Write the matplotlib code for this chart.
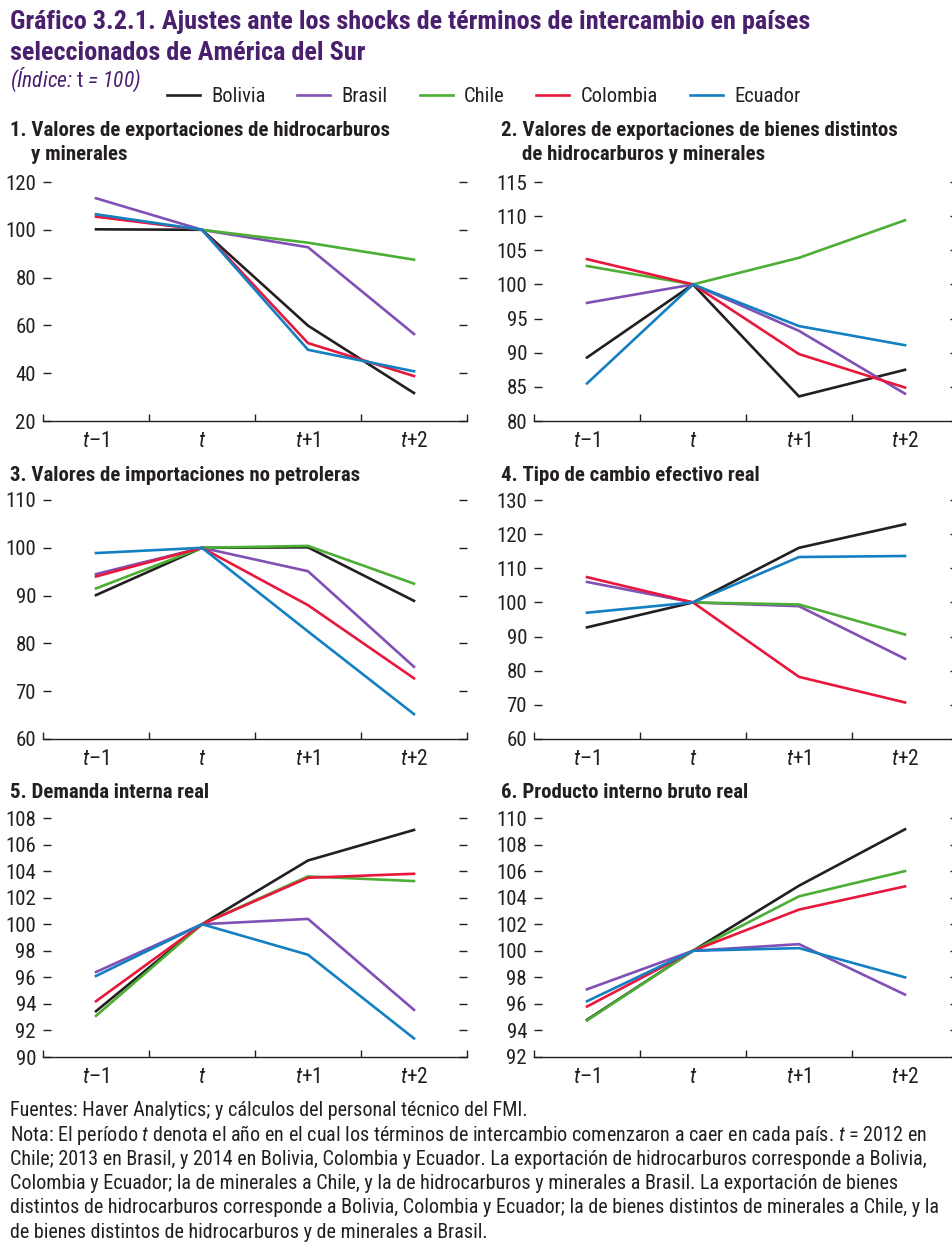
import numpy as np
import matplotlib
matplotlib.use("Agg")
import matplotlib.pyplot as plt
from matplotlib import font_manager as fm

# condensed grotesque closest to the original; fall back through what is installed
installed = {f.name for f in fm.fontManager.ttflist}
candidates = ['Roboto Condensed', 'Liberation Sans Narrow', 'Fira Sans Condensed', 'DejaVu Sans']
FAM = next(f for f in candidates if f in installed)
plt.rcParams['font.family'] = [FAM, 'DejaVu Sans']
plt.rcParams['mathtext.fontset'] = 'custom'
plt.rcParams['mathtext.it'] = FAM + ':italic'
plt.rcParams['mathtext.rm'] = FAM

# --- data -------------------------------------------------------------
periods = ["$t$–1", "$t$", "$t$+1", "$t$+2"]
countries = ["Bolivia", "Brasil", "Chile", "Colombia", "Ecuador"]
colors = ["#231f20", "#8050b4", "#4cae34", "#e8173c", "#1480c2"]

nan = np.nan
p1_bolivia = [100.2, 100, 59.9, 31.7]
p1_brasil = [113.2, 100, 92.7, 56.4]
p1_chile = [nan, 100, 94.6, 87.5]
p1_colombia = [105.5, 100, 52.6, 38.8]
p1_ecuador = [106.5, 100, 49.8, 40.8]

p2_bolivia = [89.3, 100, 83.6, 87.5]
p2_brasil = [97.3, 100, 93.2, 84.0]
p2_chile = [102.7, 100, 103.9, 109.4]
p2_colombia = [103.7, 100, 89.8, 84.9]
p2_ecuador = [85.5, 100, 93.9, 91.1]

p3_bolivia = [90.1, 100, 100.1, 88.9]
p3_brasil = [94.5, 100, 95.1, 75.1]
p3_chile = [91.5, 100, 100.4, 92.5]
p3_colombia = [94.0, 100, 88.0, 72.7]
p3_ecuador = [98.9, 100, 82.5, 65.2]

p4_bolivia = [92.7, 100, 116.0, 122.9]
p4_brasil = [106.0, 100, 98.9, 83.5]
p4_chile = [nan, 100, 99.4, 90.6]
p4_colombia = [107.4, 100, 78.2, 70.7]
p4_ecuador = [97.0, 100, 113.3, 113.6]

p5_bolivia = [93.45, 100, 104.8, 107.1]
p5_brasil = [96.4, 100, 100.4, 93.55]
p5_chile = [93.1, 100, 103.6, 103.25]
p5_colombia = [94.2, 100, 103.5, 103.8]
p5_ecuador = [96.1, 100, 97.7, 91.4]

p6_bolivia = [94.8, 100, 104.9, 109.15]
p6_brasil = [97.1, 100, 100.5, 96.7]
p6_chile = [94.75, 100, 104.1, 106.0]
p6_colombia = [95.8, 100, 103.1, 104.85]
p6_ecuador = [96.2, 100, 100.2, 98.0]

panels = [
    (["1. Valores de exportaciones de hidrocarburos", "y minerales"],
     [p1_bolivia, p1_brasil, p1_chile, p1_colombia, p1_ecuador], (20, 120, 20)),
    (["2. Valores de exportaciones de bienes distintos", "de hidrocarburos y minerales"],
     [p2_bolivia, p2_brasil, p2_chile, p2_colombia, p2_ecuador], (80, 115, 5)),
    (["3. Valores de importaciones no petroleras"],
     [p3_bolivia, p3_brasil, p3_chile, p3_colombia, p3_ecuador], (60, 110, 10)),
    (["4. Tipo de cambio efectivo real"],
     [p4_bolivia, p4_brasil, p4_chile, p4_colombia, p4_ecuador], (60, 130, 10)),
    (["5. Demanda interna real"],
     [p5_bolivia, p5_brasil, p5_chile, p5_colombia, p5_ecuador], (90, 108, 2)),
    (["6. Producto interno bruto real"],
     [p6_bolivia, p6_brasil, p6_chile, p6_colombia, p6_ecuador], (92, 110, 2)),
]

title_lines = ["Gráfico 3.2.1. Ajustes ante los shocks de términos de intercambio en países",
               "seleccionados de América del Sur"]
subtitle = "(Índice: $\\mathrm{t}$ = 100)"
notes = [
    "Fuentes: Haver Analytics; y cálculos del personal técnico del FMI.",
    "Nota: El período $t$ denota el año en el cual los términos de intercambio comenzaron a caer en cada país. $t$ = 2012 en",
    "Chile; 2013 en Brasil, y 2014 en Bolivia, Colombia y Ecuador. La exportación de hidrocarburos corresponde a Bolivia,",
    "Colombia y Ecuador; la de minerales a Chile, y la de hidrocarburos y minerales a Brasil. La exportación de bienes",
    "distintos de hidrocarburos corresponde a Bolivia, Colombia y Ecuador; la de bienes distintos de minerales a Chile, y la",
    "de bienes distintos de hidrocarburos y de minerales a Brasil.",
]

# --- layout (pixels) ---------------------------------------------------
W, H = 953, 1245
TXT = "#231f20"
PURPLE = "#4a1f6e"
fig = plt.figure(figsize=(W / 100, H / 100), dpi=100)


def fx(px):
    return px / W


def fy(py):
    return 1 - py / H


col_left = [43, 534]
row_top = [182, 500, 818]
ax_w, ax_h = 424, 239
title_y = [131, 475, 793]

x = np.arange(len(periods)) + 0.5
handles = []
for i, (ptitle, series, (lo, hi, step)) in enumerate(panels):
    r, c = divmod(i, 2)
    left, top = col_left[c], row_top[r]
    ax = fig.add_axes([fx(left), fy(top + ax_h), fx(ax_w), ax_h / H])
    for name, vals, col in zip(countries, series, colors):
        ln, = ax.plot(x, vals, color=col, lw=1.9, label=name, solid_joinstyle='miter')
        if i == 0:
            handles.append(ln)
    ax.set_xlim(0, 4)
    ax.set_ylim(lo, hi)
    ax.set_yticks(np.arange(lo, hi + step / 2, step))
    ax.set_xticks(np.arange(0, 5))
    ax.set_xticks(x, minor=True)
    ax.set_xticklabels([], minor=False)
    ax.set_xticklabels(periods, minor=True)
    for s in ["top", "left", "right"]:
        ax.spines[s].set_visible(False)
    ax.spines["bottom"].set_color(TXT)
    ax.spines["bottom"].set_linewidth(1.0)
    ax.tick_params(axis='x', which='major', direction='in', length=5, width=1, color=TXT)
    ax.tick_params(axis='x', which='minor', length=0, pad=7, labelsize=15.5, labelcolor=TXT)
    ax.tick_params(axis='y', direction='in', length=6, width=1, color=TXT, right=True,
                   labelright=False, labelsize=15, labelcolor=TXT, pad=5)

    tx = 10 if c == 0 else 501
    fig.text(fx(tx), fy(title_y[r]), ptitle[0], fontsize=15, fontweight='bold',
             color=TXT, va='center', ha='left')
    if len(ptitle) > 1:
        fig.text(fx(tx + 21), fy(title_y[r] + 24), ptitle[1], fontsize=15,
                 fontweight='bold', color=TXT, va='center', ha='left')

fig.text(fx(10), fy(22), title_lines[0], fontsize=18.9, fontweight='bold', color=PURPLE,
         va='center', ha='left')
fig.text(fx(10), fy(53), title_lines[1], fontsize=18.9, fontweight='bold', color=PURPLE,
         va='center', ha='left')
fig.text(fx(10), fy(80), subtitle, fontsize=15.5, style='italic', color=PURPLE,
         va='center', ha='left')

fig.legend(handles=handles, loc='center left', bbox_to_anchor=(fx(167), fy(97)),
           ncol=5, frameon=False, fontsize=14.8, handlelength=1.6, handletextpad=0.55,
           columnspacing=1.55, borderpad=0, borderaxespad=0, labelcolor=TXT)

for k, line in enumerate(notes):
    fig.text(fx(10), fy(1111 + 24.2 * k), line, fontsize=14.5, color=TXT,
             va='center', ha='left')

fig.savefig("out.png", dpi=100)
